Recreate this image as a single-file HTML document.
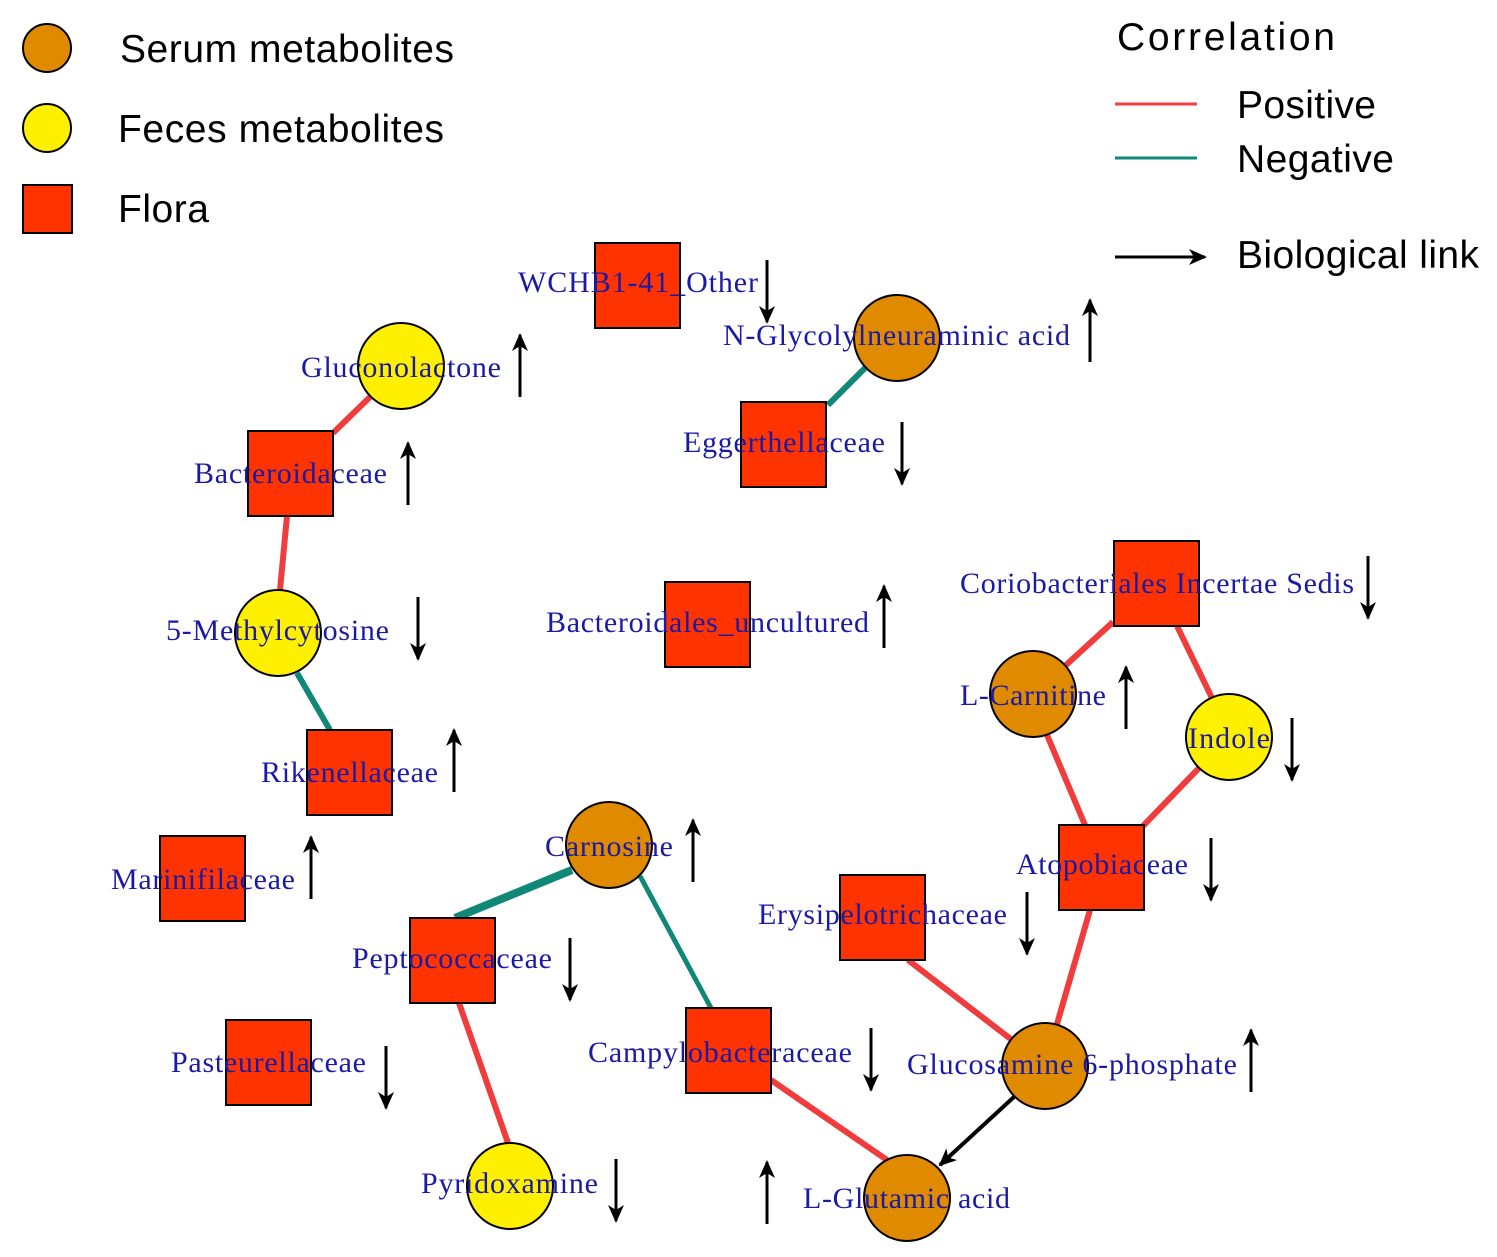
<!DOCTYPE html>
<html><head><meta charset="utf-8"><style>body{margin:0;background:#fff}svg{display:block}</style></head><body>
<svg width="1497" height="1257" viewBox="0 0 1497 1257" xmlns="http://www.w3.org/2000/svg">
<defs>
<marker id="ah2" markerWidth="18" markerHeight="16" refX="16" refY="8" orient="auto" markerUnits="userSpaceOnUse"><path d="M0,0 L18,8 L0,16 L5,8 Z" fill="#000"/></marker>
</defs>
<g font-family="Liberation Sans, sans-serif" font-size="39" fill="#000" lengthAdjust="spacingAndGlyphs">
<circle cx="47" cy="48" r="24" fill="#E08A00" stroke="#000" stroke-width="2"/>
<circle cx="47" cy="128" r="24" fill="#FFF000" stroke="#000" stroke-width="2"/>
<rect x="23" y="185" width="49" height="48" fill="#FF3300" stroke="#000" stroke-width="2"/>
<text x="120" y="62" textLength="334">Serum metabolites</text>
<text x="118" y="142" textLength="326">Feces metabolites</text>
<text x="118" y="222" textLength="91">Flora</text>
<text x="1117" y="50" textLength="218">Correlation</text>
<line x1="1115" y1="104" x2="1197" y2="104" stroke="#F03C3C" stroke-width="3"/>
<text x="1237" y="118" textLength="139">Positive</text>
<line x1="1115" y1="158" x2="1197" y2="158" stroke="#108878" stroke-width="3"/>
<text x="1237" y="172" textLength="157">Negative</text>
<line x1="1115" y1="257" x2="1205" y2="257" stroke="#000" stroke-width="3" marker-end="url(#ah2)"/>
<text x="1237" y="268" textLength="242">Biological link</text>
</g>
<g stroke-linecap="butt">
<line x1="828" y1="405" x2="865" y2="368" stroke="#108878" stroke-width="6"/>
<line x1="333" y1="433" x2="370" y2="397" stroke="#F03C3C" stroke-width="6"/>
<line x1="287" y1="516" x2="280" y2="590" stroke="#F03C3C" stroke-width="6"/>
<line x1="297" y1="673" x2="330" y2="730" stroke="#108878" stroke-width="6"/>
<line x1="1113" y1="622" x2="1066" y2="665" stroke="#F03C3C" stroke-width="6"/>
<line x1="1177" y1="626" x2="1212" y2="698" stroke="#F03C3C" stroke-width="6"/>
<line x1="1047" y1="735" x2="1085" y2="825" stroke="#F03C3C" stroke-width="6"/>
<line x1="1199" y1="768" x2="1143" y2="826" stroke="#F03C3C" stroke-width="6"/>
<line x1="572" y1="870" x2="455" y2="918" stroke="#108878" stroke-width="8"/>
<line x1="640" y1="876" x2="711" y2="1008" stroke="#108878" stroke-width="5"/>
<line x1="908" y1="960" x2="1012" y2="1040" stroke="#F03C3C" stroke-width="6"/>
<line x1="1090" y1="910" x2="1057" y2="1024" stroke="#F03C3C" stroke-width="6"/>
<line x1="459" y1="1003" x2="508" y2="1143" stroke="#F03C3C" stroke-width="6"/>
<line x1="771" y1="1080" x2="887" y2="1160" stroke="#F03C3C" stroke-width="6"/>
<line x1="1015" y1="1096" x2="940" y2="1165" stroke="#000" stroke-width="4" marker-end="url(#ah2)"/>
</g>
<g stroke="#000" stroke-width="2">
<g fill="#FF3300">
<rect x="595" y="243" width="85" height="85"/>
<rect x="741" y="402" width="85" height="85"/>
<rect x="248" y="431" width="85" height="85"/>
<rect x="307" y="730" width="85" height="85"/>
<rect x="160" y="836" width="85" height="85"/>
<rect x="665" y="582" width="85" height="85"/>
<rect x="1114" y="541" width="85" height="85"/>
<rect x="1059" y="825" width="85" height="85"/>
<rect x="840" y="875" width="85" height="85"/>
<rect x="410" y="918" width="85" height="85"/>
<rect x="226" y="1020" width="85" height="85"/>
<rect x="686" y="1008" width="85" height="85"/>
</g>
<g fill="#E08A00">
<circle cx="897" cy="338" r="43"/>
<circle cx="1033" cy="694" r="43"/>
<circle cx="609" cy="845" r="43"/>
<circle cx="1045" cy="1066" r="43"/>
<circle cx="907" cy="1198" r="43"/>
</g>
<g fill="#FFF000">
<circle cx="401" cy="366" r="43"/>
<circle cx="278" cy="633" r="43"/>
<circle cx="1229" cy="737" r="43"/>
<circle cx="510" cy="1186" r="43"/>
</g>
</g>
<g font-family="Liberation Serif, serif" font-size="30" fill="#1a1aa6" lengthAdjust="spacingAndGlyphs">
<text x="518" y="292" textLength="240">WCHB1-41_Other</text>
<text x="723" y="345" textLength="347">N-Glycolylneuraminic acid</text>
<text x="683" y="452" textLength="202">Eggerthellaceae</text>
<text x="301" y="377" textLength="200">Gluconolactone</text>
<text x="194" y="483" textLength="193">Bacteroidaceae</text>
<text x="166" y="640" textLength="223">5-Methylcytosine</text>
<text x="261" y="782" textLength="177">Rikenellaceae</text>
<text x="111" y="889" textLength="184">Marinifilaceae</text>
<text x="546" y="632" textLength="323">Bacteroidales_uncultured</text>
<text x="960" y="593" textLength="394">Coriobacteriales Incertae Sedis</text>
<text x="960" y="705" textLength="146">L-Carnitine</text>
<text x="1188" y="748" textLength="82">Indole</text>
<text x="1016" y="874" textLength="172">Atopobiaceae</text>
<text x="545" y="856" textLength="128">Carnosine</text>
<text x="758" y="924" textLength="249">Erysipelotrichaceae</text>
<text x="352" y="968" textLength="200">Peptococcaceae</text>
<text x="171" y="1072" textLength="195">Pasteurellaceae</text>
<text x="588" y="1062" textLength="264">Campylobacteraceae</text>
<text x="907" y="1074" textLength="330">Glucosamine 6-phosphate</text>
<text x="421" y="1193" textLength="177">Pyridoxamine</text>
<text x="803" y="1208" textLength="207">L-Glutamic acid</text>
</g>
<g stroke="#000" stroke-width="3" marker-end="url(#ah2)">
<line x1="767" y1="260" x2="767" y2="322"/>
<line x1="1090" y1="362" x2="1090" y2="300"/>
<line x1="902" y1="422" x2="902" y2="484"/>
<line x1="520" y1="397" x2="520" y2="335"/>
<line x1="408" y1="505" x2="408" y2="443"/>
<line x1="418" y1="597" x2="418" y2="659"/>
<line x1="454" y1="792" x2="454" y2="730"/>
<line x1="311" y1="899" x2="311" y2="837"/>
<line x1="884" y1="648" x2="884" y2="586"/>
<line x1="1368" y1="556" x2="1368" y2="618"/>
<line x1="1126" y1="729" x2="1126" y2="667"/>
<line x1="1292" y1="718" x2="1292" y2="780"/>
<line x1="1211" y1="838" x2="1211" y2="900"/>
<line x1="693" y1="882" x2="693" y2="820"/>
<line x1="1027" y1="892" x2="1027" y2="954"/>
<line x1="570" y1="938" x2="570" y2="1000"/>
<line x1="386" y1="1046" x2="386" y2="1108"/>
<line x1="871" y1="1028" x2="871" y2="1090"/>
<line x1="1251" y1="1092" x2="1251" y2="1030"/>
<line x1="616" y1="1159" x2="616" y2="1221"/>
<line x1="767" y1="1224" x2="767" y2="1162"/>
</g>
</svg>
</body></html>
